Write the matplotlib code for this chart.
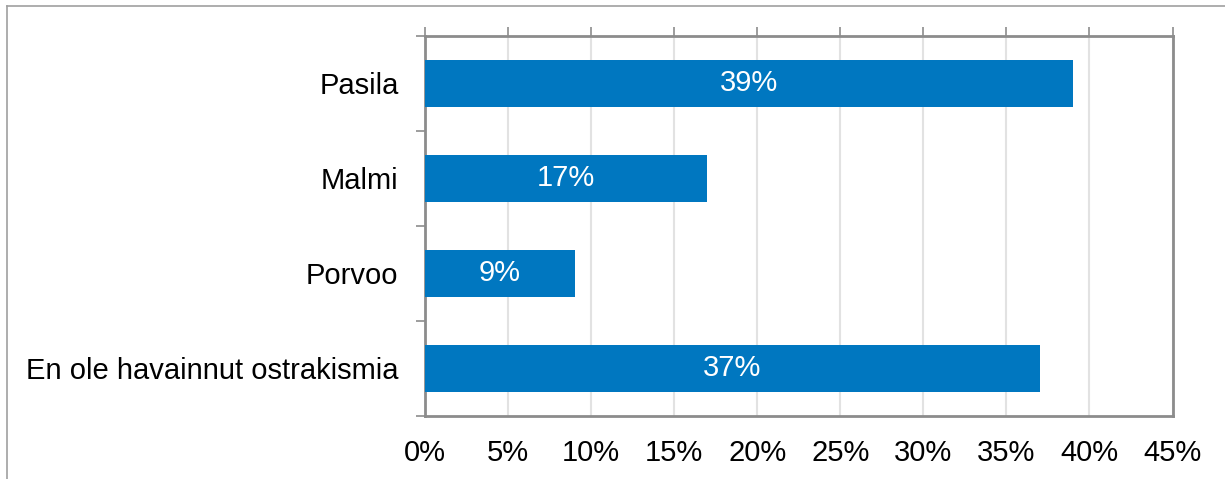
import matplotlib
matplotlib.use("Agg")
import matplotlib.pyplot as plt
from matplotlib.lines import Line2D
from matplotlib.ticker import FixedLocator, PercentFormatter

categories = ["Pasila", "Malmi", "Porvoo", "En ole havainnut ostrakismia"]
values = [39, 17, 9, 37]
x_ticks = [0, 5, 10, 15, 20, 25, 30, 35, 40, 45]

plt.rcParams["font.family"] = ["Liberation Sans", "DejaVu Sans"]

W, H = 1225, 479
fig = plt.figure(figsize=(W / 100, H / 100), dpi=100)
ax = fig.add_axes([425 / W, 1 - 415.7 / H, (1172.5 - 425) / W, (415.7 - 36) / H])

FS = 21
bar_color = "#0077C0"
pos = list(range(len(categories)))
bars = ax.barh(pos, values, height=0.5, color=bar_color, zorder=3)
for b, v in zip(bars, values):
    ax.text(b.get_x() + b.get_width() / 2, b.get_y() + b.get_height() / 2,
            f"{v}%", color="white", ha="center", va="center", fontsize=FS, zorder=4)

ax.set_xlim(0, 45)
ax.set_ylim(len(categories) - 0.5, -0.5)

ax.xaxis.set_major_locator(FixedLocator(x_ticks))
ax.xaxis.set_major_formatter(PercentFormatter(decimals=0))
ax.grid(axis="x", color="#E2E2E2", linewidth=1.5, zorder=0)

ax.set_yticks(pos)
ax.set_yticklabels(categories)
ax.yaxis.set_minor_locator(FixedLocator([i - 0.5 for i in range(len(categories) + 1)]))

edge = "#8C8C8C"
for s in ax.spines.values():
    s.set_color(edge)
    s.set_linewidth(2)

ax.tick_params(axis="x", which="major", top=True, bottom=False, labelbottom=True,
               labeltop=False, direction="out", length=6.5, width=1.2, color=edge,
               labelsize=FS, pad=10)
ax.tick_params(axis="y", which="major", length=0, labelsize=FS, pad=19)
ax.tick_params(axis="y", which="minor", left=True, direction="out", length=6.5,
               width=1.2, color=edge)

# outer frame of the figure (left and top edges)
fig.add_artist(Line2D([7 / W, 7 / W], [0, 1 - 6 / H], transform=fig.transFigure,
                      color="#A0A0A0", linewidth=1.2))
fig.add_artist(Line2D([7 / W, 1], [1 - 6 / H, 1 - 6 / H], transform=fig.transFigure,
                      color="#A0A0A0", linewidth=1.2))

fig.savefig("out.png", dpi=100, facecolor="white")
